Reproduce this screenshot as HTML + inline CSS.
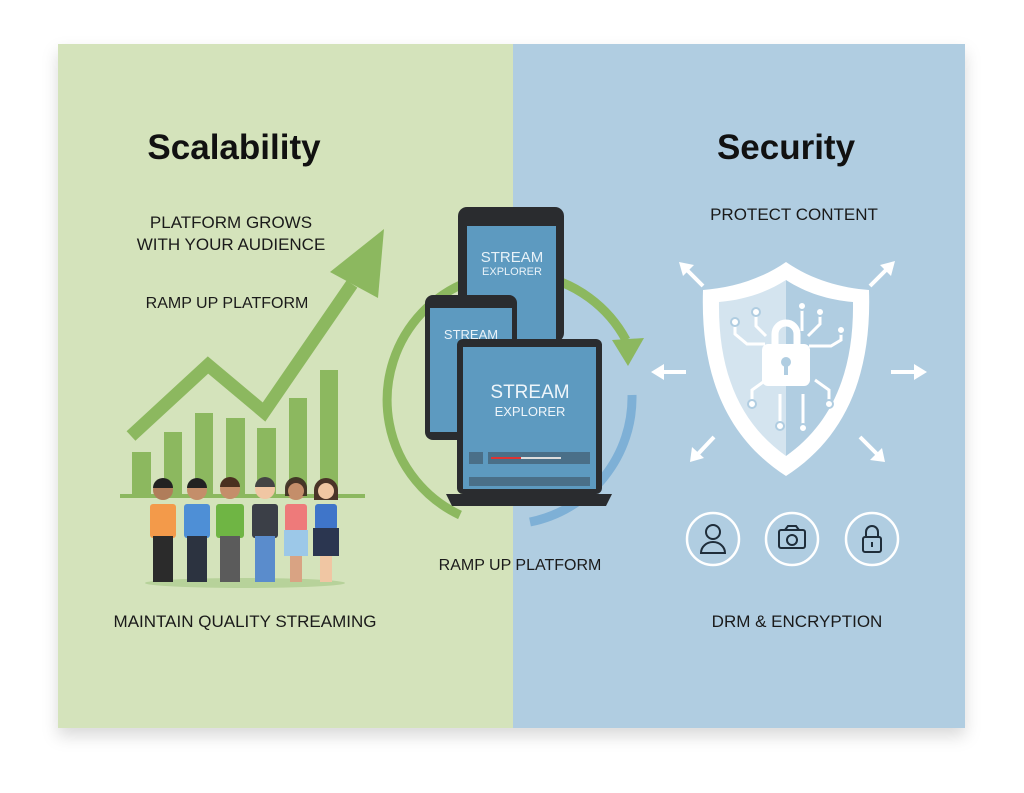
<!DOCTYPE html>
<html><head><meta charset="utf-8"><style>
body{margin:0;width:1024px;height:788px;background:#fff;overflow:hidden;font-family:"Liberation Sans",sans-serif}
</style></head><body>
<svg width="1024" height="788" viewBox="0 0 1024 788" xmlns="http://www.w3.org/2000/svg" font-family="Liberation Sans, sans-serif">
<defs>
<filter id="sh" x="-5%" y="-5%" width="110%" height="115%"><feDropShadow dx="0" dy="8" stdDeviation="8" flood-color="#000" flood-opacity="0.15"/></filter>
</defs>
<rect x="58" y="44" width="907" height="684" fill="#d4e3bb" filter="url(#sh)"/>
<rect x="513" y="44" width="452" height="684" fill="#b0cde1"/>

<text x="234" y="159" font-size="35" font-weight="bold" text-anchor="middle" fill="#111" transform="scale(1,1)">Scalability</text>
<text x="786" y="159" font-size="35" font-weight="bold" text-anchor="middle" fill="#111">Security</text>
<g font-size="17" fill="#1a1a1a" text-anchor="middle">
<text x="231" y="228">PLATFORM GROWS</text>
<text x="231" y="250">WITH YOUR AUDIENCE</text>
<text x="227" y="308" font-size="16">RAMP UP PLATFORM</text>
<text x="245" y="627">MAINTAIN QUALITY STREAMING</text>
<text x="520" y="570" font-size="16">RAMP UP PLATFORM</text>
<text x="794" y="220">PROTECT CONTENT</text>
<text x="797" y="627">DRM &amp; ENCRYPTION</text>
</g>

<!-- bars -->
<g fill="#8cb85f">
<rect x="132" y="452" width="19" height="44"/>
<rect x="164" y="432" width="18" height="64"/>
<rect x="195" y="413" width="18" height="83"/>
<rect x="226" y="418" width="19" height="78"/>
<rect x="257" y="428" width="19" height="68"/>
<rect x="289" y="398" width="18" height="98"/>
<rect x="320" y="370" width="18" height="126"/>
<rect x="120" y="494" width="245" height="4"/>
</g>
<polyline points="131,436 208,365 264,412 352,284" fill="none" stroke="#8cb85f" stroke-width="13" stroke-linejoin="miter"/>
<polygon points="384,229 330,272 378,298" fill="#8cb85f"/>

<!-- people -->
<ellipse cx="245" cy="583" rx="100" ry="5" fill="#b7d29a"/>
<g>
<g transform="translate(163,0)"><rect x="-13" y="504" width="26" height="34" rx="3" fill="#f39a4a"/><rect x="-10" y="536" width="20" height="46" fill="#2b2b2b"/><circle cx="0" cy="490" r="10" fill="#b07d5a"/><path d="M-10,488 a10,10 0 0 1 20,0z" fill="#222"/></g>
<g transform="translate(197,0)"><rect x="-13" y="504" width="26" height="34" rx="3" fill="#4e8fd6"/><rect x="-10" y="536" width="20" height="46" fill="#2c3340"/><circle cx="0" cy="490" r="10" fill="#c48e6a"/><path d="M-10,488 a10,10 0 0 1 20,0z" fill="#222"/></g>
<g transform="translate(230,0)"><rect x="-14" y="504" width="28" height="34" rx="3" fill="#6fb544"/><rect x="-10" y="536" width="20" height="46" fill="#5b5b5b"/><circle cx="0" cy="489" r="10" fill="#c48e6a"/><path d="M-10,487 a10,10 0 0 1 20,0z" fill="#4a3020"/></g>
<g transform="translate(265,0)"><rect x="-13" y="504" width="26" height="34" rx="3" fill="#3b3f47"/><rect x="-10" y="536" width="20" height="46" fill="#5a8ccc"/><circle cx="0" cy="489" r="10" fill="#f0c6a3"/><path d="M-10,487 a10,10 0 0 1 20,0z" fill="#444"/></g>
<g transform="translate(296,0)"><rect x="-11" y="504" width="22" height="28" rx="3" fill="#ee7a7a"/><rect x="-12" y="530" width="24" height="26" fill="#9cc8e8"/><rect x="-6" y="556" width="12" height="26" fill="#d9a383"/><circle cx="0" cy="490" r="10" fill="#c48e6a"/><path d="M-11,496 v-8 a11,11 0 0 1 22,0 v8z" fill="#3a2a20" opacity=".9"/><circle cx="0" cy="491" r="8" fill="#c48e6a"/></g>
<g transform="translate(326,0)"><rect x="-11" y="504" width="22" height="26" rx="3" fill="#3f75c9"/><rect x="-13" y="528" width="26" height="28" fill="#2b3650"/><rect x="-6" y="556" width="12" height="26" fill="#f0c6a3"/><path d="M-12,500 v-10 a12,12 0 0 1 24,0 v10z" fill="#4a3328"/><circle cx="0" cy="491" r="8" fill="#f0c6a3"/></g>
</g>

<!-- cycle arcs -->
<path d="M460,515 A127,127 0 1 1 626,340" fill="none" stroke="#8cb85f" stroke-width="9"/>
<polygon points="612,340 644,338 628,366" fill="#8cb85f"/>
<path d="M632,395 A127,127 0 0 1 530,522" fill="none" stroke="#7eb0d6" stroke-width="9"/>

<!-- phone back -->
<rect x="458" y="207" width="106" height="135" rx="9" fill="#2a2c2f"/>
<rect x="467" y="226" width="89" height="116" fill="#5d9ac0"/>
<text x="512" y="262" font-size="15" fill="#e8f2f8" text-anchor="middle">STREAM</text>
<text x="512" y="275" font-size="11" fill="#e8f2f8" text-anchor="middle">EXPLORER</text>
<!-- phone mid -->
<rect x="425" y="295" width="92" height="145" rx="8" fill="#2a2c2f"/>
<rect x="430" y="308" width="82" height="124" fill="#5d9ac0"/>
<text x="471" y="339" font-size="13" fill="#e8f2f8" text-anchor="middle">STREAM</text>
<!-- laptop -->
<rect x="457" y="339" width="145" height="155" rx="6" fill="#2a2c2f"/>
<rect x="463" y="347" width="133" height="142" fill="#5d9ac0"/>
<text x="530" y="398" font-size="19" fill="#eef5fa" text-anchor="middle">STREAM</text>
<text x="530" y="416" font-size="13" fill="#eef5fa" text-anchor="middle">EXPLORER</text>
<rect x="469" y="452" width="14" height="12" fill="#4a6f88"/>
<rect x="488" y="452" width="102" height="12" fill="#4a6f88"/>
<rect x="491" y="457" width="30" height="2" fill="#d33"/><rect x="521" y="457" width="40" height="2" fill="#ddd"/>
<rect x="469" y="477" width="121" height="9" fill="#4a6f88"/>
<path d="M446,494 L612,494 L606,506 L452,506z" fill="#2a2c2f"/>

<!-- shield -->
<path d="M786,262 C760,280 730,288 703,290 C700,380 730,440 786,476 C842,440 872,380 869,290 C842,288 812,280 786,262z" fill="#fff"/>
<path d="M786,280 C766,293 743,300 719,302 C718,375 742,425 786,456z" fill="#b0cde1" opacity=".55"/>
<path d="M786,280 C806,293 829,300 853,302 C854,375 830,425 786,456z" fill="#b0cde1"/>
<g stroke="#fff" stroke-width="3" fill="none">
<path d="M735,322 v12 l12,10 h18"/><path d="M756,312 v14 l10,10"/><path d="M802,306 v25"/><path d="M820,312 v12 l-12,12"/><path d="M841,330 v10 l-10,6 h-22"/>
<path d="M752,404 v-14 l14,-10"/><path d="M780,424 v-30"/><path d="M803,426 v-32"/><path d="M829,402 v-12 l-14,-10"/>
</g>
<g stroke="#b0cde1" stroke-width="2" fill="#fff"><circle cx="735" cy="322" r="4"/><circle cx="756" cy="312" r="4"/><circle cx="802" cy="306" r="4"/><circle cx="820" cy="312" r="4"/><circle cx="841" cy="330" r="4"/><circle cx="752" cy="404" r="4"/><circle cx="780" cy="426" r="4"/><circle cx="803" cy="428" r="4"/><circle cx="829" cy="404" r="4"/></g>
<path d="M775,346 v-12 a11,11 0 0 1 22,0 v12" fill="none" stroke="#fff" stroke-width="7"/>
<rect x="762" y="344" width="48" height="42" rx="6" fill="#fff"/>
<circle cx="786" cy="362" r="5" fill="#b0cde1"/><rect x="784" y="363" width="4" height="12" fill="#b0cde1"/>

<!-- arrows -->
<g stroke="#fff" stroke-width="4" fill="#fff">
<line x1="703" y1="286" x2="685" y2="268"/><polygon points="679,262 694,265 683,276" stroke="none"/>
<line x1="870" y1="286" x2="888" y2="268"/><polygon points="895,261 891,276 880,265" stroke="none"/>
<line x1="686" y1="372" x2="660" y2="372"/><polygon points="651,372 664,364 664,380" stroke="none"/>
<line x1="891" y1="372" x2="918" y2="372"/><polygon points="927,372 914,364 914,380" stroke="none"/>
<line x1="714" y1="437" x2="697" y2="455"/><polygon points="690,462 692,447 704,458" stroke="none"/>
<line x1="860" y1="437" x2="878" y2="455"/><polygon points="885,462 870,460 882,448" stroke="none"/>
</g>

<!-- icons -->
<g fill="none" stroke="#fff" stroke-width="2.5"><circle cx="713" cy="539" r="26"/><circle cx="792" cy="539" r="26"/><circle cx="872" cy="539" r="26"/></g>
<g fill="none" stroke="#1f2d3a" stroke-width="2">
<circle cx="713" cy="532" r="7"/><path d="M701,553 a12,11 0 0 1 24,0z"/>
<rect x="779" y="530" width="26" height="18" rx="2"/><circle cx="792" cy="540" r="5"/><path d="M785,530 l3,-4 h8 l3,4"/>
<rect x="863" y="537" width="18" height="15" rx="2"/><path d="M866,537 v-5 a6,6 0 0 1 12,0 v5"/><line x1="872" y1="542" x2="872" y2="547"/>
</g>
</svg>
</body></html>
